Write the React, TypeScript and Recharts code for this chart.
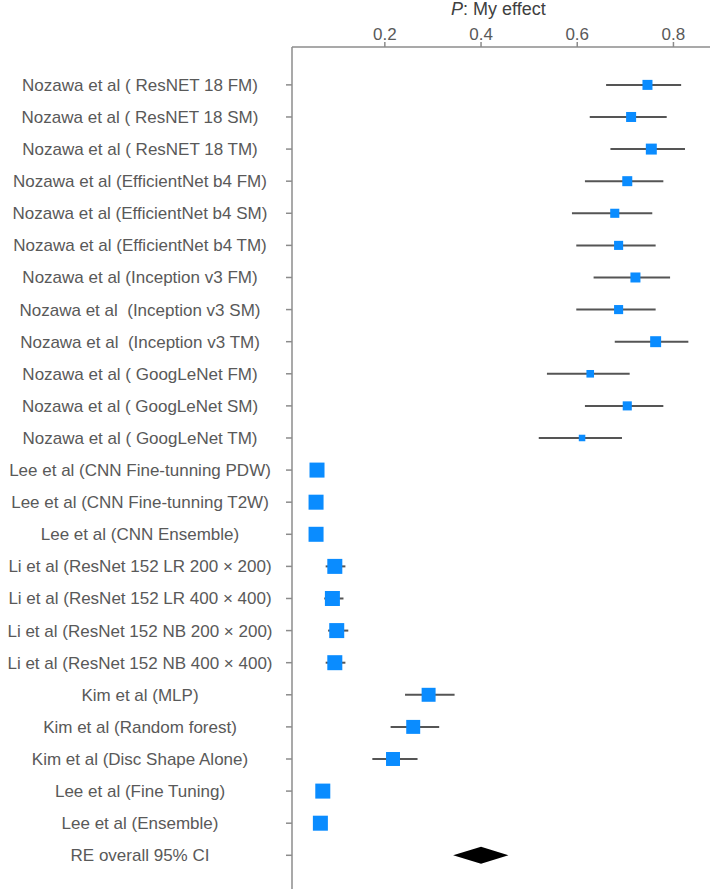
import { ScatterChart, Scatter, XAxis, YAxis, ErrorBar } from 'recharts'

const studies = [
  'Nozawa et al ( ResNET 18 FM)',
  'Nozawa et al ( ResNET 18 SM)',
  'Nozawa et al ( ResNET 18 TM)',
  'Nozawa et al (EfficientNet b4 FM)',
  'Nozawa et al (EfficientNet b4 SM)',
  'Nozawa et al (EfficientNet b4 TM)',
  'Nozawa et al (Inception v3 FM)',
  'Nozawa et al  (Inception v3 SM)',
  'Nozawa et al  (Inception v3 TM)',
  'Nozawa et al ( GoogLeNet FM)',
  'Nozawa et al ( GoogLeNet SM)',
  'Nozawa et al ( GoogLeNet TM)',
  'Lee et al (CNN Fine-tunning PDW)',
  'Lee et al (CNN Fine-tunning T2W)',
  'Lee et al (CNN Ensemble)',
  'Li et al (ResNet 152 LR 200 × 200)',
  'Li et al (ResNet 152 LR 400 × 400)',
  'Li et al (ResNet 152 NB 200 × 200)',
  'Li et al (ResNet 152 NB 400 × 400)',
  'Kim et al (MLP)',
  'Kim et al (Random forest)',
  'Kim et al (Disc Shape Alone)',
  'Lee et al (Fine Tuning)',
  'Lee et al (Ensemble)',
]

const effects = [
  0.746, 0.712, 0.754, 0.704, 0.678, 0.686, 0.721, 0.686, 0.763, 0.627, 0.704, 0.61,
  0.059, 0.057, 0.057, 0.096, 0.091, 0.1, 0.096, 0.291, 0.259, 0.217, 0.071, 0.066,
]
const lower = [
  0.66, 0.626, 0.669, 0.616, 0.589, 0.598, 0.634, 0.598, 0.678, 0.537, 0.616, 0.52,
  0.052, 0.05, 0.05, 0.077, 0.074, 0.082, 0.077, 0.242, 0.212, 0.174, 0.063, 0.058,
]
const upper = [
  0.816, 0.786, 0.824, 0.779, 0.756, 0.763, 0.793, 0.763, 0.831, 0.709, 0.779, 0.693,
  0.066, 0.064, 0.064, 0.118, 0.114, 0.124, 0.118, 0.345, 0.313, 0.268, 0.079, 0.074,
]
// relative study weights (square area)
const weights = [
  4, 4, 4.8, 4, 3.3, 3.3, 4, 3.3, 4.8, 2.3, 3.3, 1.7,
  9, 9, 9, 9, 9, 9, 9, 7.8, 7.8, 7.8, 9, 9,
]

const overallLabel = 'RE overall 95% CI'
const overallEffect = 0.4
const overallLower = 0.342
const overallUpper = 0.457

const xTicks = [0.2, 0.4, 0.6, 0.8]

const W = 710
const H = 889
const Y_AXIS_W = 292
const X_AXIS_H = 47
const X_DOMAIN: [number, number] = [0.007, 0.876]
const Y_DOMAIN: [number, number] = [-0.18, 26.05]
const pxPerUnit = (W - Y_AXIS_W) / (X_DOMAIN[1] - X_DOMAIN[0])

const allLabels = [...studies, overallLabel]

const rows = studies.map((name, i) => ({
  name,
  y: i + 1,
  x: effects[i],
  err: [effects[i] - lower[i], upper[i] - effects[i]],
  w: weights[i],
}))

const overallRow = [
  { name: overallLabel, y: allLabels.length, x: overallEffect, lo: overallLower, hi: overallUpper },
]

const BLUE = '#0a8cff'
const TEXT = '#595959'
const AXIS = '#8c8c8c'
const FONT = "'Liberation Sans', Arial, sans-serif"

function Square(props: any) {
  const { cx, cy, payload } = props
  const s = Math.sqrt(payload.w) * 5
  return <rect x={cx - s / 2} y={cy - s / 2} width={s} height={s} fill={BLUE} />
}

function Diamond(props: any) {
  const { cx, cy, payload } = props
  const l = cx - (payload.x - payload.lo) * pxPerUnit
  const r = cx + (payload.hi - payload.x) * pxPerUnit
  const h = 8.5
  return <polygon points={`${l},${cy} ${cx},${cy - h} ${r},${cy} ${cx},${cy + h}`} fill="#000" />
}

function StudyTick(props: any) {
  const { x, y, payload } = props
  const label = allLabels[payload.value - 1]
  if (!label) return null
  return (
    <text
      x={x - 144}
      y={y}
      dy={6}
      textAnchor="middle"
      fill={TEXT}
      fontSize={17}
      fontFamily={FONT}
      style={{ whiteSpace: 'pre' }}
    >
      {label}
    </text>
  )
}

export default function App() {
  return (
    <div style={{ position: 'absolute', left: 0, top: 0, width: W, height: H, background: '#fff' }}>
      <div
        style={{
          position: 'absolute',
          top: 0,
          left: 0,
          width: W,
          paddingLeft: 451,
          fontFamily: FONT,
          fontSize: 18,
          lineHeight: '18px',
          color: '#404040',
          boxSizing: 'border-box',
        }}
      >
        <i>P</i>: My effect
      </div>
      <ScatterChart width={W} height={H} margin={{ top: 0, right: 0, bottom: 0, left: 0 }}>
        <XAxis
          type="number"
          dataKey="x"
          orientation="top"
          domain={X_DOMAIN}
          ticks={xTicks}
          allowDataOverflow
          height={X_AXIS_H}
          tick={{ fill: TEXT, fontSize: 17, fontFamily: FONT }}
          tickFormatter={(v: number) => v.toFixed(1)}
          stroke={AXIS}
          strokeWidth={1.5}
          tickSize={5}
        />
        <YAxis
          type="number"
          dataKey="y"
          reversed
          domain={Y_DOMAIN}
          allowDataOverflow
          ticks={allLabels.map((_, i) => i + 1)}
          interval={0}
          width={Y_AXIS_W}
          tick={<StudyTick />}
          stroke={AXIS}
          strokeWidth={1.5}
          tickSize={6}
        />
        <Scatter data={rows} shape={<Square />} isAnimationActive={false}>
          <ErrorBar dataKey="err" direction="x" width={0} stroke="#555" strokeWidth={2} />
        </Scatter>
        <Scatter data={overallRow} shape={<Diamond />} isAnimationActive={false} />
      </ScatterChart>
    </div>
  )
}
